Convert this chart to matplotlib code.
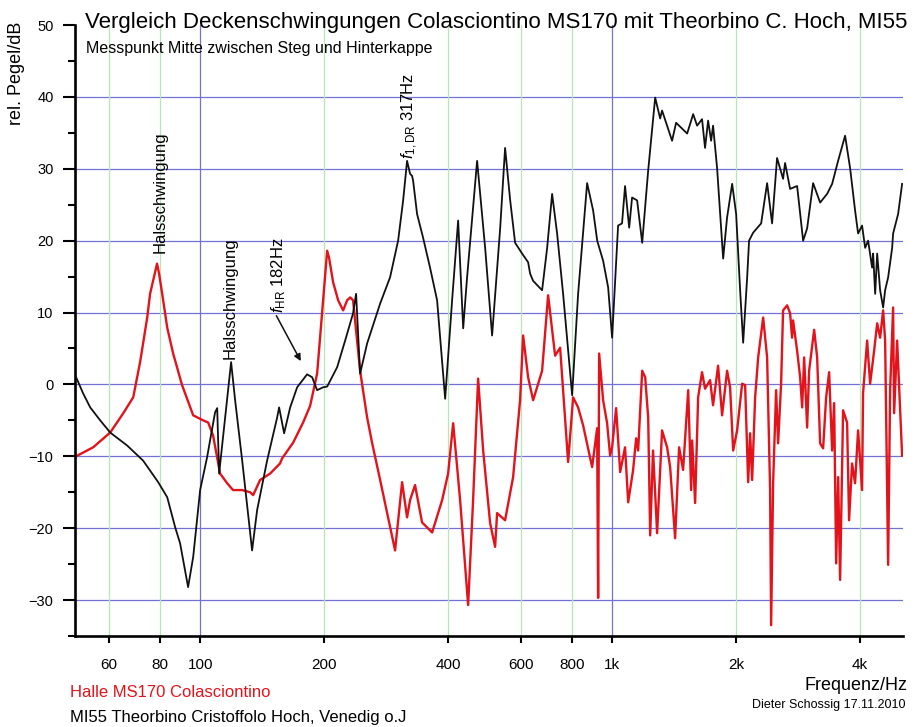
import matplotlib.pyplot as plt
from matplotlib.ticker import FixedLocator, NullFormatter

plt.rcParams['font.family'] = ['Liberation Sans', 'DejaVu Sans']
plt.rcParams['mathtext.fontset'] = 'custom'
plt.rcParams['mathtext.rm'] = 'Liberation Sans'
plt.rcParams['mathtext.it'] = 'Liberation Sans:italic'

# Theorbino MI55 (schwarz)
hoch_f = [50, 52.0, 54.1, 57.2, 60.5, 66.5, 72.7, 79.1, 83.2, 87, 89.4, 93.5, 96.2,
          100, 104, 108.7, 110, 111.2, 115, 118.9, 121.6, 126.5, 133.7, 137.5, 145.4,
          153.8, 155.5, 159.9, 165.4, 172, 181.8, 187, 192.3, 198.9, 203.4, 215.1,
          224.9, 235.1, 239.1, 244.5, 254.3, 273.5, 289.1, 302.4, 311, 317.9, 323.3,
          327, 328.9, 336.2, 347.7, 361.6, 376, 393.3, 408.9, 422.9, 435, 444.6,
          470.2, 491.8, 511.3, 535, 549.8, 565.7, 581.5, 604.7, 625.3, 632.4, 643.1,
          676.2, 695.5, 715.1, 735.3, 760.4, 799.7, 826.9, 869.6, 899.3, 920, 951,
          978, 1000, 1034, 1057, 1075, 1100, 1118, 1150, 1183, 1223, 1272, 1308, 1322,
          1398, 1430, 1521, 1573, 1608, 1653, 1681, 1710, 1739, 1758, 1798, 1860,
          1901, 1956, 2000, 2045, 2080, 2127, 2150, 2199, 2300, 2378, 2445, 2514,
          2600, 2629, 2704, 2812, 2908, 2974, 3075, 3198, 3325, 3420, 3536, 3677,
          3781, 3888, 3954, 4043, 4113, 4182, 4276, 4301, 4350, 4399, 4472, 4548,
          4599, 4677, 4783, 4809, 4945, 5057]
hoch_db = [1.0, -1.25, -3.2, -5.0, -6.7, -8.5, -10.6, -13.6, -15.7, -19.9, -22.1, -28.2, -24.0,
           -14.7, -10.1, -3.9, -3.3, -12.4, -4.6, 3.1, -2.2, -10.6, -23.1, -17.5, -10.6,
           -4.6, -3.2, -6.8, -3.2, -0.4, 1.4, 1.0, -0.8, -0.4, -0.3, 2.4,
           6.1, 9.9, 12.6, 1.5, 5.7, 11.25, 14.9, 20.0, 25.6, 31.1, 29.3,
           29.0, 28.3, 23.7, 20.4, 16.2, 11.7, -2.0, 11.7, 22.8, 7.8, 14.9,
           31.1, 19.0, 6.8, 21.8, 32.9, 25.6, 19.7, 18.2, 17.0, 15.4, 14.4,
           13.1, 19.0, 26.5, 21.0, 12.6, -1.5, 12.6, 28.0, 24.2, 20.0, 17.2,
           13.5, 6.5, 22.1, 22.4, 27.6, 21.8, 26.0, 25.6, 19.7, 29.7, 39.9, 37.0, 38.1,
           33.9, 36.4, 34.9, 37.6, 36.0, 36.9, 32.9, 36.7, 33.9, 36.0, 30.1, 17.5,
           23.2, 27.9, 23.7, 13.1, 5.8, 14.9, 20.0, 21.1, 22.4, 28.0, 22.4, 31.5,
           28.6, 30.8, 27.2, 27.6, 20.0, 21.7, 28.0, 25.3, 26.5, 27.9, 31.1, 34.6,
           30.1, 24.2, 21.0, 22.1, 19.0, 20.0, 16.25, 18.2, 12.6, 18.2, 13.1, 10.7,
           13.1, 14.9, 19.0, 21.0, 23.7, 27.9]

# Colasciontino MS170 Halle (rot)
halle_f = [50, 55, 60.5, 65.1, 68.8, 71.5, 74.4, 75.6, 78.6, 79.5, 80.9, 83.2, 86,
           90.4, 96.2, 101.7, 104.6, 107.5, 111.8, 116.3, 120.2, 126.5, 132.2, 134.5,
           139.8, 147.9, 156.3, 158.1, 168.2, 177.8, 184.9, 192.3, 198.9, 203.4, 205.6,
           210.3, 216.3, 222.4, 227.4, 231.3, 235.1, 244.5, 254.3, 261.6, 273.5, 284.4,
           297.3, 309.2, 317.9, 323.3, 332.4, 345.7, 355.6, 365.7, 386.7, 399.9, 411.3,
           427.6, 447.2, 459.8, 472.9, 486.4, 505.7, 520, 525.8, 549.8, 575, 597.9,
           608.1, 625.3, 643.1, 676.2, 699.3, 727.2, 747.8, 782, 804.2, 826.9, 850.4,
           894.3, 919.6, 924.8, 930, 951, 972.4, 988.8, 1000, 1022.6, 1046, 1075, 1094,
           1124.6, 1143.7, 1156.6, 1183, 1203, 1223.3, 1237, 1257, 1286, 1322, 1359.7,
           1383, 1422, 1454.1, 1487, 1530, 1555.1, 1564, 1590.3, 1617.2, 1653, 1681,
           1729, 1758, 1808, 1849, 1901.4, 1933.5, 1967, 2011, 2068, 2103, 2139, 2162.6,
           2187, 2224, 2262, 2326, 2378, 2418, 2432, 2459, 2500.6, 2528.7, 2571.4, 2600,
           2659, 2704, 2734, 2749.7, 2812, 2860, 2892.6, 2925.1, 2974, 3007, 3093.2,
           3145.5, 3198, 3252, 3307.3, 3363.2, 3420, 3458.5, 3498, 3537, 3576, 3636,
           3718, 3760, 3823, 3888, 3954, 4043, 4065, 4159, 4229, 4325, 4399, 4472,
           4548, 4599, 4677, 4729, 4809, 4836, 4918, 5000, 5057]
halle_db = [-10.0, -8.75, -6.7, -4.0, -1.8, 3.1, 9.3, 12.6, 16.8, 15.4, 12.6, 7.9, 4.3,
            -0.1, -4.3, -5.0, -5.3, -7.1, -12.4, -13.75, -14.7, -14.7, -15.0, -15.4,
            -13.3, -12.4, -11.0, -10.3, -8.1, -5.3, -3.0, 1.5, 11.7, 18.6, 17.6,
            14.2, 11.7, 10.3, 11.7, 12.1, 11.7, 1.9, -4.6, -8.2, -13.3, -17.9,
            -23.1, -13.6, -18.5, -16.1, -14.0, -19.2, -19.9, -20.6, -16.1, -12.4, -5.4,
            -16.1, -30.7, -16.1, 0.8, -9.2, -19.3, -22.6, -17.9, -18.9, -12.9, -2.2,
            6.8, 1.0, -2.2, 1.9, 12.4, 4.0, 5.1, -10.8, -1.8, -3.2, -5.7,
            -11.5, -6.1, -29.7, 4.3, -2.2, -5.4, -9.9, -8.75, -3.3, -12.2, -8.75, -16.4,
            -11.9, -7.5, -9.2, 1.9, 1.0, -4.6, -21.0, -9.2, -20.7, -6.4, -8.75,
            -11.5, -21.4, -8.75, -11.9, -0.8, -14.7, -7.8, -16.5, -1.8, 1.7, -0.6,
            0.6, -2.9, 2.6, -4.3, 1.9, -0.4, -9.2, -6.4, 0.1, -0.1, -13.6, -6.8,
            -13.3, -1.8, 3.75, 9.3, 3.75, -14.7, -33.5, -13.75, -0.8, -8.2, 0.1, 10.3,
            11.0, 9.9, 6.5, 8.9, 4.7, 1.0, -3.2, 3.75, -6.0, 1.9, 7.6,
            3.75, -8.2, -8.9, -1.8, 1.7, -9.2, -2.6, -24.9, -12.9, -27.2, -3.6,
            -5.3, -18.9, -11.0, -13.75, -6.4, -14.7, -1.25, 6.1, 0.1, 4.7, 8.5, 6.5,
            10.3, 6.1, -25.1, -0.8, 10.7, -4.0, 6.1, -3.2, -9.9]

x_ticks = [60, 80, 100, 200, 400, 600, 800, 1000, 2000, 4000]
x_labels = ['60', '80', '100', '200', '400', '600', '800', '1k', '2k', '4k']
y_major = [-30, -20, -10, 0, 10, 20, 30, 40, 50]

fig = plt.figure(figsize=(9.15, 7.27), dpi=100)
ax = fig.add_axes([0.082, 0.1252, 0.905, 0.8404])
ax.set_xscale('log')
ax.set_xlim(49.7, 5085)
ax.set_ylim(-35, 50)

# Raster: blau horizontal, grün vertikal, blau bei 100 Hz und 1 kHz
for y in y_major[:-1]:
    ax.axhline(y, color='#7272d6', lw=0.9, zorder=0)
for x in x_ticks:
    col = '#7272d6' if x in (100, 1000) else '#b8e6b8'
    ax.axvline(x, color=col, lw=0.9, zorder=0)

ax.plot(hoch_f, hoch_db, color='#111111', lw=1.3, zorder=3)
ax.plot(halle_f, halle_db, color='#e3131b', lw=1.7, zorder=2)

for s in ['top', 'right']:
    ax.spines[s].set_visible(False)
for s in ['left', 'bottom']:
    ax.spines[s].set_linewidth(1.9)

ax.xaxis.set_major_locator(FixedLocator(x_ticks))
ax.set_xticklabels(x_labels)
ax.xaxis.set_minor_locator(FixedLocator([100, 1000]))
ax.xaxis.set_minor_formatter(NullFormatter())
ax.tick_params(axis='x', which='major', length=5, width=1.5, pad=11, labelsize=11)
ax.tick_params(axis='x', which='minor', length=9, width=1.5)

ax.yaxis.set_major_locator(FixedLocator(y_major))
ax.yaxis.set_minor_locator(FixedLocator(range(-35, 50, 10)))
ax.tick_params(axis='y', which='major', length=8.5, width=1.5, pad=7, labelsize=10.5)
ax.tick_params(axis='y', which='minor', length=5, width=1.5)

# Beschriftungen der Resonanzen
ax.text(80.0, 18.3, 'Halsschwingung', rotation=90, ha='center', va='bottom', fontsize=12)
ax.text(118, 3.6, 'Halsschwingung', rotation=90, ha='center', va='bottom', fontsize=12)
ax.text(154.7, 9.9, r'$f_{\rm HR}$ 182Hz', rotation=90, ha='center', va='bottom', fontsize=12)
ax.annotate('', xy=(176.8, 2.9), xytext=(152, 9.9),
            arrowprops=dict(arrowstyle='-|>', color='#111111', lw=1.1, mutation_scale=10))
ax.text(323, 31.4, r'$f_{\rm 1,DR}$ 317Hz', rotation=90, ha='center', va='bottom', fontsize=12)

W, H = 915, 727
fig.text(85 / W, 1 - 28 / H, 'Vergleich Deckenschwingungen Colasciontino MS170 mit Theorbino C. Hoch, MI55',
         fontsize=16, va='baseline')
fig.text(86 / W, 1 - 53 / H, 'Messpunkt Mitte zwischen Steg und Hinterkappe', fontsize=11.5, va='baseline')
fig.text(17 / W, 1 - 22 / H, 'rel. Pegel/dB', rotation=90, ha='center', va='top', fontsize=13)
fig.text(907 / W, 1 - 690 / H, 'Frequenz/Hz', ha='right', va='baseline', fontsize=13)
fig.text(905 / W, 1 - 708 / H, 'Dieter Schossig 17.11.2010', ha='right', va='baseline', fontsize=9)
fig.text(70 / W, 1 - 697 / H, 'Halle MS170 Colasciontino', color='#e3131b', va='baseline', fontsize=12)
fig.text(70 / W, 1 - 722 / H, 'MI55 Theorbino Cristoffolo Hoch, Venedig o.J', va='baseline', fontsize=12)

fig.savefig('out.png', dpi=100)
